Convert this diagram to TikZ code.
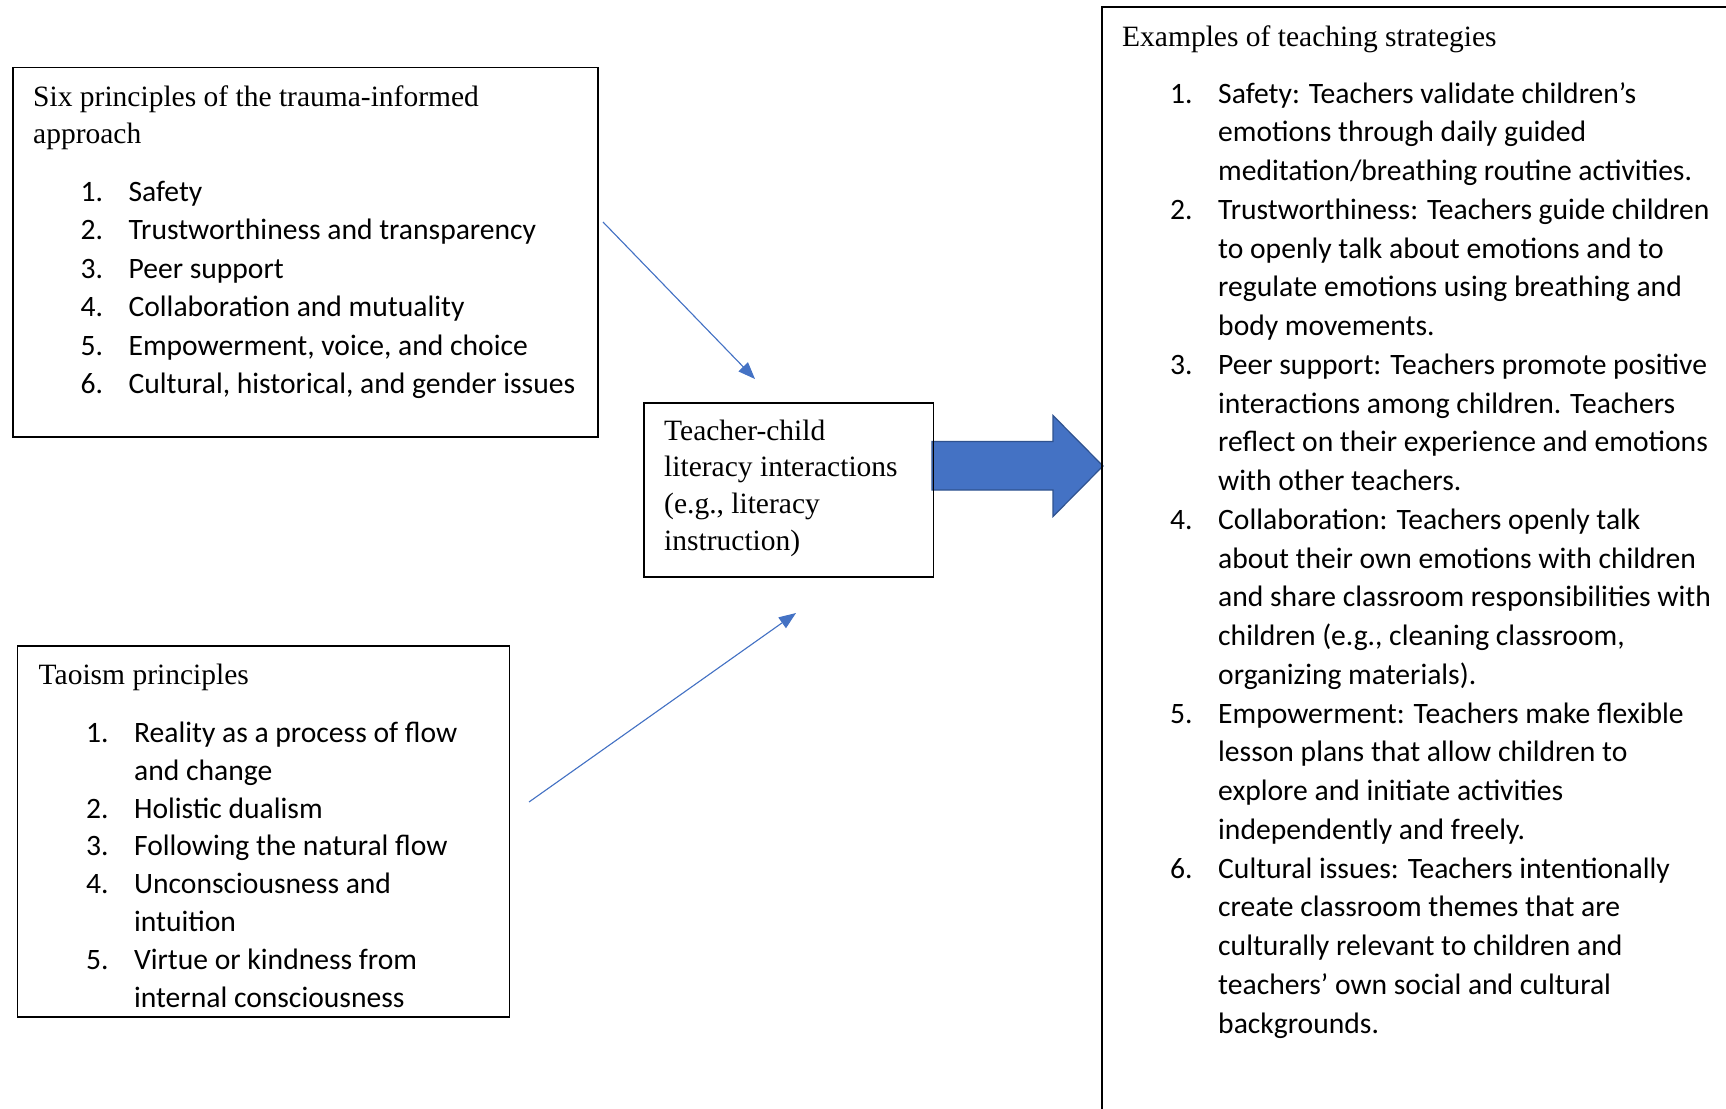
\documentclass[tikz,border=0pt]{standalone}
\usepackage{fontspec}
\setmainfont{Liberation Serif}
\newfontfamily\listfont{Carlito}
\usetikzlibrary{arrows.meta}
\definecolor{wordblue}{HTML}{4472C4}
\definecolor{wordedge}{HTML}{2F528F}
\newcommand{\itm}[2]{\makebox[48pt][l]{#1}#2}
\newcommand{\cnt}[1]{\hspace*{48pt}#1}
\begin{document}
\begin{tikzpicture}[x=1pt,y=-1pt,
  box/.style={draw=black, line width=1.5pt, anchor=north west, inner sep=0pt},
  txt/.style={anchor=base west, inner sep=0pt},
  link/.style={draw=wordblue, line width=1.1pt, -{Triangle[length=17pt,width=13pt]}, fill=wordblue},
  bigarrow/.style={fill=wordblue, draw=wordedge, line width=1.2pt, line join=miter}
]
\useasboundingbox[fill=white] (0,0) rectangle (1726,1108);

% big block arrow
\draw[bigarrow] (932,441.5) -- (1053,441.5) -- (1053,415.5) -- (1103,466) -- (1053,516.5) -- (1053,490) -- (932,490) -- cycle;

% boxes
\node[box, minimum width=585pt, minimum height=369pt] (trauma) at (12,67) {};
\node[box, minimum width=492pt, minimum height=371pt] (tao) at (16.5,645) {};
\node[box, minimum width=289.5pt, minimum height=174pt] (center) at (643,402) {};
\node[box, minimum width=700pt, minimum height=1200pt] (strat) at (1101,6.5) {};

% trauma box text
\node[txt] (traumaT) at (33,106.8) {\parbox[t]{560pt}{\fontsize{29.5pt}{36.4pt}\selectfont
Six principles of the trauma-informed\\approach}};
\node[txt] (traumaL) at (80.4,201.2) {\parbox[t]{560pt}{\listfont\fontsize{29.6pt}{38.5pt}\selectfont
\itm{1.}{Safety}\\
\itm{2.}{Trustworthiness and transparency}\\
\itm{3.}{Peer support}\\
\itm{4.}{Collaboration and mutuality}\\
\itm{5.}{Empowerment, voice, and choice}\\
\itm{6.}{Cultural, historical, and gender issues}}};

% taoism box text
\node[txt] (taoT) at (38.5,684.2) {\parbox[t]{460pt}{\fontsize{29.5pt}{36.4pt}\selectfont
Taoism principles}};
\node[txt] (taoL) at (85.9,742.2) {\parbox[t]{460pt}{\listfont\fontsize{29.6pt}{37.9pt}\selectfont
\itm{1.}{Reality as a process of flow}\\
\cnt{and change}\\
\itm{2.}{Holistic dualism}\\
\itm{3.}{Following the natural flow}\\
\itm{4.}{Unconsciousness and}\\
\cnt{intuition}\\
\itm{5.}{Virtue or kindness from}\\
\cnt{internal consciousness}}};

% center box text
\node[txt] (centerT) at (664,440.2) {\parbox[t]{260pt}{\fontsize{29.5pt}{36.6pt}\selectfont
Teacher-child\\
literacy interactions\\
(e.g., literacy\\
instruction)}};

% strategies box text
\node[txt] (stratT) at (1122,46.2) {\parbox[t]{580pt}{\fontsize{29.5pt}{36.4pt}\selectfont
Examples of teaching strategies}};
\node[txt] (stratL) at (1170,103.2) {\parbox[t]{580pt}{\listfont\fontsize{29.6pt}{38.75pt}\selectfont
\itm{1.}{Safety: Teachers validate children’s}\\
\cnt{emotions through daily guided}\\
\cnt{meditation/breathing routine activities.}\\
\itm{2.}{Trustworthiness: Teachers guide children}\\
\cnt{to openly talk about emotions and to}\\
\cnt{regulate emotions using breathing and}\\
\cnt{body movements.}\\
\itm{3.}{Peer support: Teachers promote positive}\\
\cnt{interactions among children. Teachers}\\
\cnt{reflect on their experience and emotions}\\
\cnt{with other teachers.}\\
\itm{4.}{Collaboration: Teachers openly talk}\\
\cnt{about their own emotions with children}\\
\cnt{and share classroom responsibilities with}\\
\cnt{children (e.g., cleaning classroom,}\\
\cnt{organizing materials).}\\
\itm{5.}{Empowerment: Teachers make flexible}\\
\cnt{lesson plans that allow children to}\\
\cnt{explore and initiate activities}\\
\cnt{independently and freely.}\\
\itm{6.}{Cultural issues: Teachers intentionally}\\
\cnt{create classroom themes that are}\\
\cnt{culturally relevant to children and}\\
\cnt{teachers’ own social and cultural}\\
\cnt{backgrounds.}}};

% thin arrows
\coordinate (a1s) at (603,222);
\coordinate (a1e) at (755,379);
\coordinate (a2s) at (529,802);
\coordinate (a2e) at (796,613);
\draw[link] (a1s) -- (a1e);
\draw[link] (a2s) -- (a2e);
\end{tikzpicture}
\end{document}
